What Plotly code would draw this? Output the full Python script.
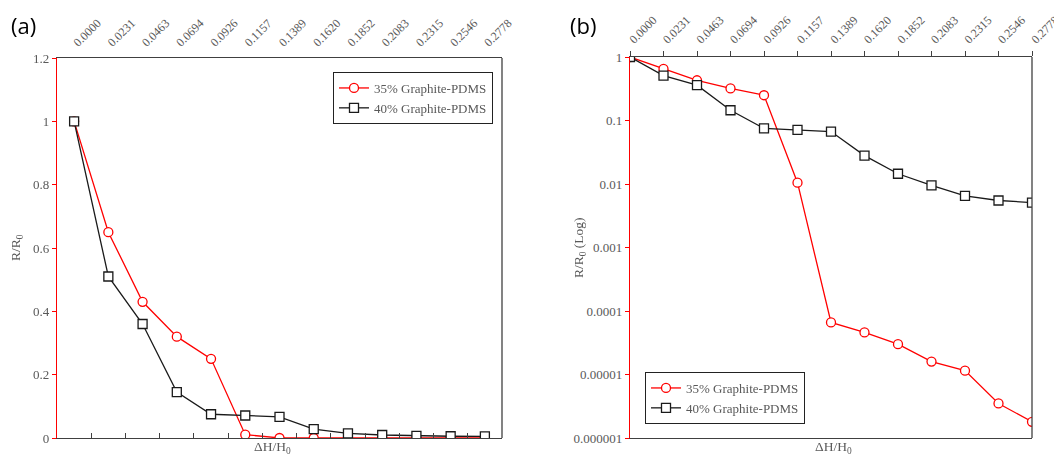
import plotly.graph_objects as go

categories = ["0.0000", "0.0231", "0.0463", "0.0694", "0.0926", "0.1157", "0.1389",
              "0.1620", "0.1852", "0.2083", "0.2315", "0.2546", "0.2778"]
r35 = [1.0, 0.65, 0.43, 0.32, 0.25, 0.0105, 6.6e-5, 4.6e-5, 3.0e-5, 1.6e-5, 1.15e-5, 3.5e-6, 1.8e-6]
r40 = [1.0, 0.51, 0.36, 0.145, 0.075, 0.071, 0.067, 0.028, 0.0145, 0.0095, 0.0065, 0.0055, 0.0051]
series_names = ["35% Graphite-PDMS", "40% Graphite-PDMS"]
log_ticks = [1, 0.1, 0.01, 0.001, 0.0001, 0.00001, 0.000001]
log_labels = ["1", "0.1", "0.01", "0.001", "0.0001", "0.00001", "0.000001"]

# page body adds an 8px margin; figure is sized to the remaining window
OFF = 8
W, H = 1062 - OFF, 455 - OFF
def px(x): return (x - OFF) / W
def py(y): return 1 - (y - OFF) / H

GRAY = "#595959"
SERIF = "Liberation Serif, Times New Roman, serif"
tickfont = dict(family=SERIF, size=12, color=GRAY)
yfont = dict(family=SERIF, size=13, color=GRAY)

fig = go.Figure()
styles = [
    dict(color="#ff0000", symbol="circle"),
    dict(color="#1a1a1a", symbol="square"),
]
for vals, name, st in zip([r35, r40], series_names, styles):
    fig.add_trace(go.Scatter(
        x=categories, y=vals, name=name, mode="lines+markers",
        xaxis="x", yaxis="y", legend="legend",
        line=dict(color=st["color"], width=1.3),
        marker=dict(symbol=st["symbol"], size=9, color="white",
                    line=dict(color=st["color"], width=1.3)),
    ))
# hidden helper so the bottom tick axis of panel (a) gets its categories
fig.add_trace(go.Scatter(x=categories, y=r40, xaxis="x3", yaxis="y", mode="markers",
                         opacity=0, showlegend=False, hoverinfo="skip"))
for vals, name, st in zip([r35, r40], series_names, styles):
    fig.add_trace(go.Scatter(
        x=categories, y=vals, name=name, mode="lines+markers",
        xaxis="x2", yaxis="y2", legend="legend2",
        line=dict(color=st["color"], width=1.3),
        marker=dict(symbol=st["symbol"], size=9, color="white",
                    line=dict(color=st["color"], width=1.3)),
    ))

domA = [px(57), px(502)]
domB = [px(630), px(1032)]
domY = [py(438), py(58)]
domY2 = [py(438), py(57)]
n = len(categories)

fig.update_layout(
    width=W, height=H, margin=dict(l=0, r=0, t=0, b=0),
    paper_bgcolor="white", plot_bgcolor="white",
    xaxis=dict(domain=domA, anchor="y", side="top", type="category",
               range=[-0.5, n - 0.5], showline=True, linecolor="#404040", linewidth=1.3,
               mirror=True, ticks="", ticklabelstandoff=3,
               tickangle=-45, tickfont=tickfont, showgrid=False, automargin=False),
    xaxis3=dict(overlaying="x", anchor="y", side="bottom", type="category",
                range=[-0.5, n - 0.5], showline=False, tickson="boundaries",
                ticks="inside", ticklen=5, tickcolor="#404040", tickwidth=1.3,
                showticklabels=False, showgrid=False, zeroline=False, automargin=False),
    yaxis=dict(domain=domY, anchor="x", range=[0, 1.2], dtick=0.2,
               showline=True, linecolor="#ff0000", linewidth=1.3,
               ticks="outside", ticklen=4, tickcolor="#ff0000",
               tickfont=yfont, showgrid=False, zeroline=False, automargin=False),
    xaxis2=dict(domain=domB, anchor="y2", side="top", type="category",
                range=[0, n - 1], showline=True, linecolor="#404040", linewidth=1.3,
                mirror=True, ticks="outside", ticklen=5, tickcolor="#404040", tickwidth=1.3,
                ticklabelstandoff=0,
                tickangle=-45, tickfont=tickfont, showgrid=False, automargin=False),
    yaxis2=dict(domain=domY2, anchor="x2", type="log", range=[-6, 0],
                tickvals=log_ticks, ticktext=log_labels,
                showline=True, linecolor="#ff0000", linewidth=1.3,
                ticks="outside", ticklen=4, tickcolor="#ff0000",
                tickfont=yfont, showgrid=False, zeroline=False, automargin=False),
    legend=dict(x=px(333), y=py(72), xanchor="left", yanchor="top",
                bordercolor="#222222", borderwidth=1, bgcolor="white",
                font=dict(family=SERIF, size=13, color=GRAY), tracegroupgap=0),
    legend2=dict(x=px(645), y=py(372), xanchor="left", yanchor="top",
                 bordercolor="#222222", borderwidth=1, bgcolor="white",
                 font=dict(family=SERIF, size=13, color=GRAY), tracegroupgap=0),
    shapes=[
        dict(type="line", xref="x domain", yref="y domain", x0=1, x1=1, y0=0, y1=1,
             line=dict(color="#404040", width=1.3)),
        dict(type="line", xref="x2 domain", yref="y2 domain", x0=1, x1=1, y0=0, y1=1,
             line=dict(color="#404040", width=1.3)),
    ],
)

ann_common = dict(xref="paper", yref="paper", showarrow=False,
                  xanchor="center", yanchor="middle")
annotations = [
    dict(text="(a)", x=px(23), y=py(25),
         font=dict(family="Open Sans, sans-serif", size=22, color="black")),
    dict(text="(b)", x=px(583), y=py(25),
         font=dict(family="Open Sans, sans-serif", size=22, color="black")),
    dict(text="ΔH/H<sub>0</sub>", x=px(272), y=py(447),
         font=dict(family=SERIF, size=13.5, color=GRAY)),
    dict(text="ΔH/H<sub>0</sub>", x=px(833), y=py(447),
         font=dict(family=SERIF, size=13.5, color=GRAY)),
    dict(text="R/R<sub>0</sub>", x=px(16), y=py(248), textangle=-90,
         font=dict(family=SERIF, size=13.5, color=GRAY)),
    dict(text="R/R<sub>0</sub> (Log)", x=px(579), y=py(248), textangle=-90,
         font=dict(family=SERIF, size=13.5, color=GRAY)),
]
fig.update_layout(annotations=[dict(**ann_common, **a) for a in annotations])

fig.write_html("out.html")
